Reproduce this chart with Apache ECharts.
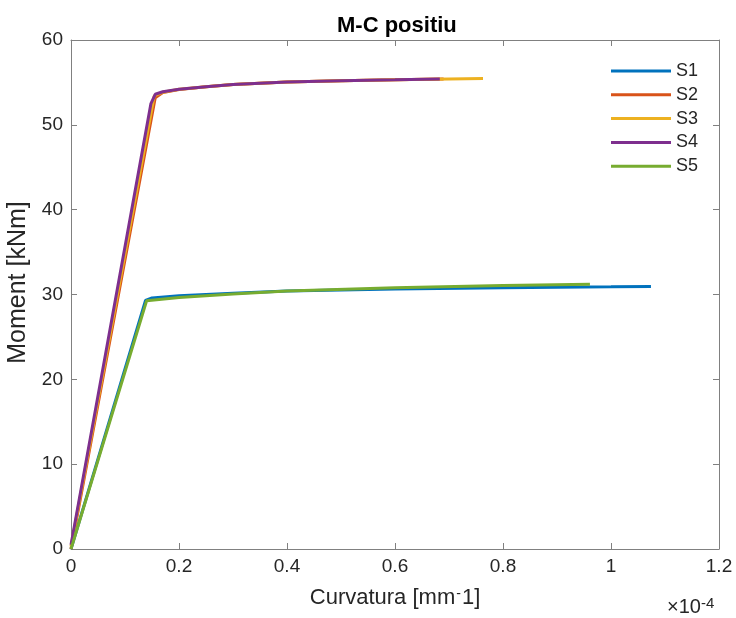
<!DOCTYPE html>
<html lang="en">
<head>
    <meta charset="UTF-8">
    <title>M-C positiu</title>
    <script src="https://cdn.jsdelivr.net/npm/echarts@6/dist/echarts.min.js"></script>
</head>
<body style="margin:0">
    <div id="main" style="width: 736px;height:618px;"></div>
    <script type="text/javascript">
        var myChart = echarts.init(document.getElementById('main'));

        // curvatura en unitats de 1e-4 mm^-1, moment en kNm
        var names = ['S1', 'S2', 'S3', 'S4', 'S5'];
        var colors = ['#0072BD', '#D95319', '#EDB120', '#7E2F8E', '#77AC30'];
        var s1 = [[0, 0], [0.138, 29.3], [0.15, 29.6], [0.2, 29.85], [0.3, 30.15], [0.4, 30.4], [0.6, 30.65], [0.8, 30.8], [1.0, 30.9], [1.074, 30.95]];
        var s2 = [[0, 0], [0.156, 53.2], [0.17, 53.8], [0.2, 54.15], [0.25, 54.5], [0.3, 54.75], [0.4, 55.05], [0.5, 55.2], [0.6, 55.3], [0.69, 55.4]];
        var s3 = [[0, 0.3], [0.154, 53.4], [0.17, 53.85], [0.2, 54.2], [0.25, 54.5], [0.3, 54.75], [0.4, 55.05], [0.5, 55.2], [0.6, 55.3], [0.7, 55.4], [0.763, 55.45]];
        var s4 = [[0, 0.5], [0.148, 52.5], [0.156, 53.6], [0.17, 53.9], [0.2, 54.2], [0.25, 54.5], [0.3, 54.75], [0.4, 55.05], [0.5, 55.2], [0.6, 55.3], [0.683, 55.4]];
        var s5 = [[0, 0], [0.14, 29.25], [0.2, 29.65], [0.3, 30.05], [0.4, 30.4], [0.6, 30.8], [0.8, 31.05], [0.961, 31.2]];
        var seriesData = [s1, s2, s3, s4, s5];

        var axisGray = '#808080';
        var textDark = '#262626';
        var font = 'Liberation Sans, Arial, sans-serif';

        var series = [];
        for (var i = 0; i < names.length; i++) {
            series.push({
                name: names[i],
                type: 'line',
                data: seriesData[i],
                showSymbol: false,
                lineStyle: { width: 3, color: colors[i] },
                itemStyle: { color: colors[i] }
            });
        }

        var option = {
            animation: false,
            textStyle: { fontFamily: font },
            title: {
                text: 'M-C positiu',
                left: 332,
                top: 10,
                textStyle: { fontSize: 22, fontWeight: 'bold', color: '#000', fontFamily: font }
            },
            legend: {
                data: names,
                orient: 'vertical',
                left: 606,
                top: 57,
                icon: 'rect',
                itemWidth: 60,
                itemHeight: 3,
                itemGap: 5.8,
                textStyle: { fontSize: 18, color: textDark, lineHeight: 18, fontFamily: font }
            },
            grid: { left: 71, right: 17, top: 40, bottom: 69, outerBoundsMode: 'none' },
            xAxis: [{
                type: 'value',
                min: 0,
                max: 1.2,
                interval: 0.2,
                name: '{a|Curvatura [mm}{s|-}{a|1]}',
                nameLocation: 'middle',
                nameGap: 38,
                nameTextStyle: {
                    rich: {
                        a: { fontSize: 22, color: textDark, fontFamily: font },
                        s: { fontSize: 14, color: textDark, fontFamily: font, verticalAlign: 'top', padding: [0, 1, 8, 1] }
                    }
                },
                axisLine: { onZero: false, lineStyle: { color: axisGray } },
                axisTick: { inside: true, length: 6, lineStyle: { color: axisGray } },
                axisLabel: { fontSize: 19, color: textDark, margin: 8, formatter: function (v) { return v === 0 ? '0' : (Math.round(v * 10) / 10).toString(); } },
                splitLine: { show: false }
            }, {
                type: 'value',
                position: 'top',
                min: 0,
                max: 1.2,
                interval: 0.2,
                axisLine: { show: true, onZero: false, lineStyle: { color: axisGray } },
                axisTick: { show: true, inside: true, length: 6, lineStyle: { color: axisGray } },
                axisLabel: { show: false },
                splitLine: { show: false }
            }],
            yAxis: [{
                type: 'value',
                min: 0,
                max: 60,
                interval: 10,
                name: 'Moment [kNm]',
                nameLocation: 'middle',
                nameGap: 30,
                nameTextStyle: { fontSize: 25, color: textDark, fontFamily: font, padding: [0, 0, 0, 24] },
                axisLine: { show: true, onZero: false, lineStyle: { color: axisGray } },
                axisTick: { show: true, inside: true, length: 6, lineStyle: { color: axisGray } },
                axisLabel: { fontSize: 19, color: textDark, margin: 8 },
                splitLine: { show: false }
            }, {
                type: 'value',
                position: 'right',
                min: 0,
                max: 60,
                interval: 10,
                axisLine: { show: true, onZero: false, lineStyle: { color: axisGray } },
                axisTick: { show: true, inside: true, length: 6, lineStyle: { color: axisGray } },
                axisLabel: { show: false },
                splitLine: { show: false }
            }],
            graphic: [{
                type: 'text',
                left: 667,
                top: 596,
                style: {
                    text: '{a|\u00d710}{s|-4}',
                    rich: {
                        a: { fontSize: 20, fill: textDark, fontFamily: font },
                        s: { fontSize: 15, fill: textDark, fontFamily: font, verticalAlign: 'top', padding: [0, 0, 8, 0] }
                    }
                }
            }],
            series: series
        };

        myChart.setOption(option);
    </script>
</body>
</html>
